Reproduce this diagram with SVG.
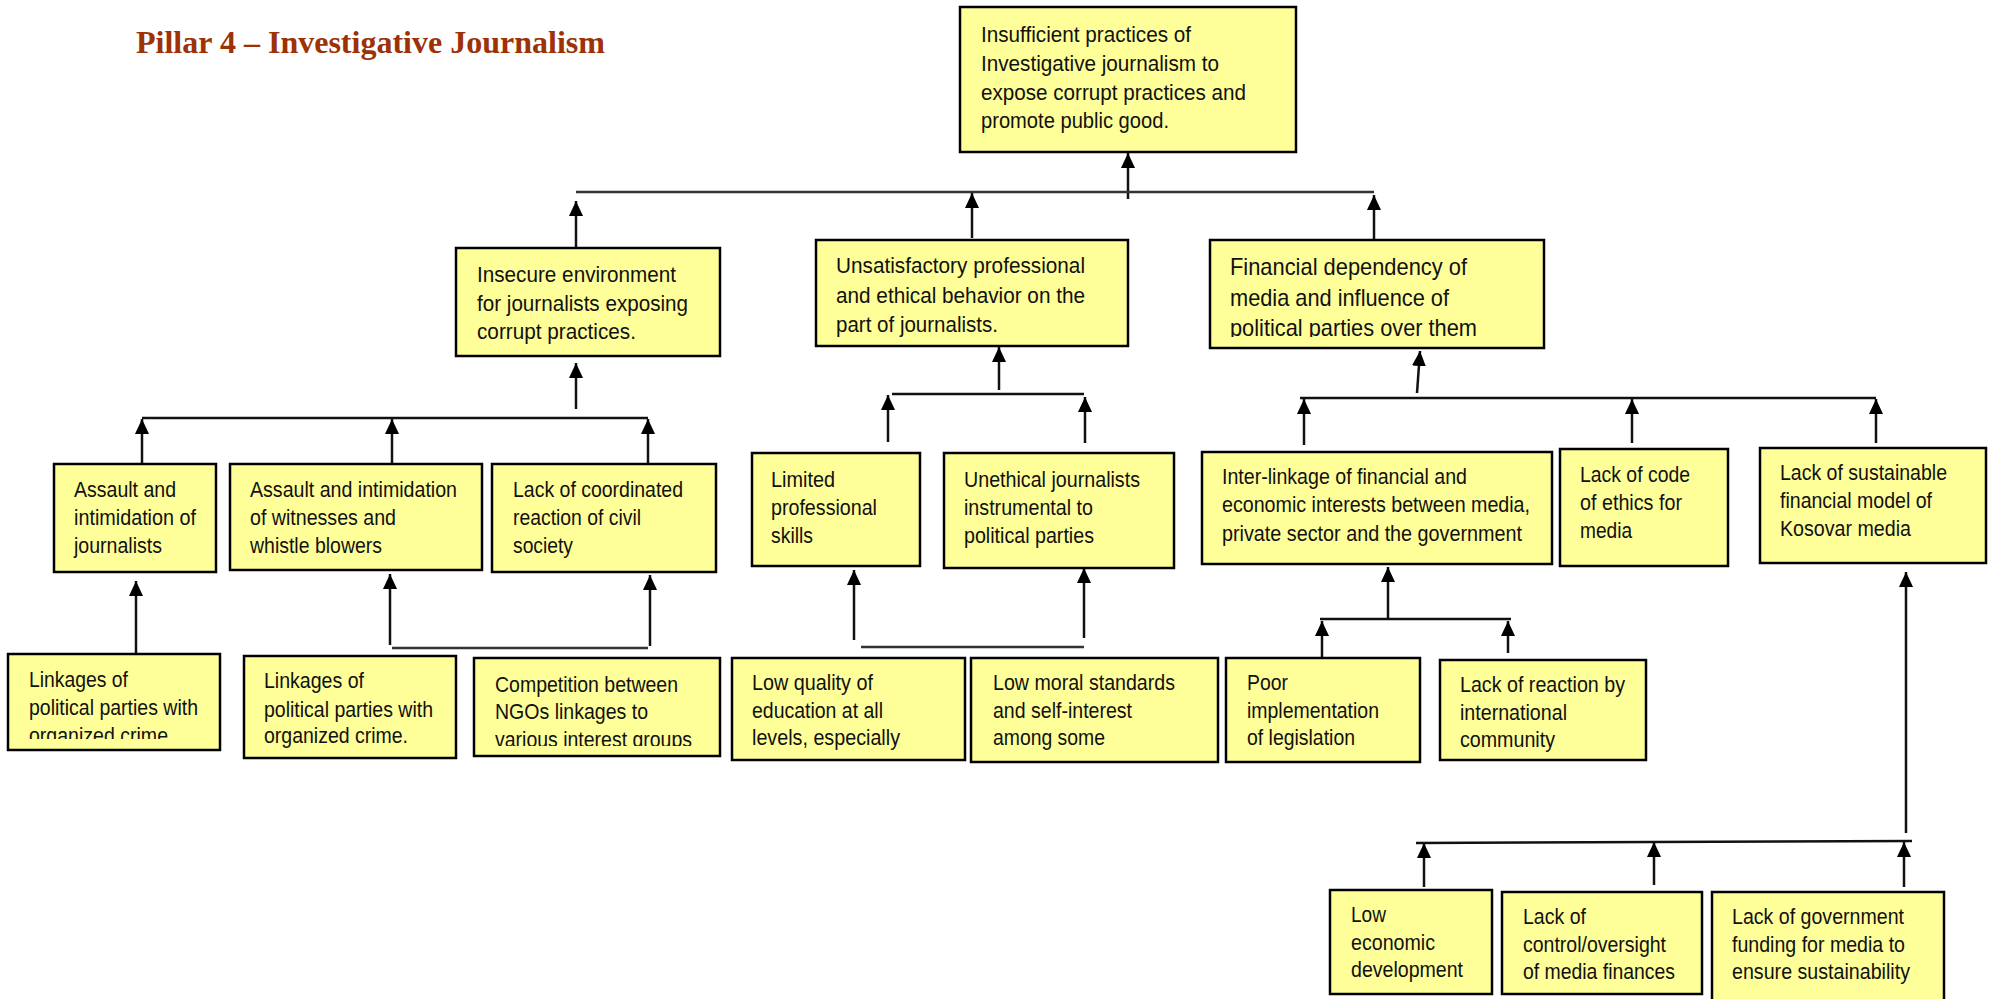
<svg xmlns="http://www.w3.org/2000/svg" width="1993" height="999" viewBox="0 0 1993 999">
<style>
.box{fill:#FFFF99;stroke:#000;stroke-width:2.5}
.t{font-family:"Liberation Sans",Arial,sans-serif;font-size:22px;fill:#111}
.tb{font-family:"Liberation Sans",Arial,sans-serif;font-size:24px;fill:#111}
.c{stroke:#111;stroke-width:2.5;fill:none}
.bar{stroke:#333;stroke-width:2.5;fill:none}
.title{font-family:"Liberation Serif","Times New Roman",serif;font-weight:bold;font-size:31px;fill:#9C3206}
</style>
<defs>
<marker id="ah" markerUnits="userSpaceOnUse" markerWidth="15" markerHeight="15" viewBox="0 0 15 14" refX="15" refY="7" orient="auto">
<path d="M0,0 L15,7 L0,14 z" fill="#000"/>
</marker>
<clipPath id="cpB1"><rect x="9" y="655" width="210" height="84"/></clipPath>
<clipPath id="cpB3"><rect x="475" y="659" width="244" height="87"/></clipPath>
<clipPath id="cpFin"><rect x="1211" y="241" width="332" height="96"/></clipPath>
</defs>
<rect width="1993" height="999" fill="#fff"/>
<text class="title" x="136" y="53" textLength="469" lengthAdjust="spacingAndGlyphs">Pillar 4 – Investigative Journalism</text>

<g id="connectors">
<line class="c" x1="1128" y1="199" x2="1128" y2="153" marker-end="url(#ah)"/>
<line class="bar" x1="576" y1="192" x2="1374" y2="192"/>
<line class="c" x1="576" y1="247" x2="576" y2="201" marker-end="url(#ah)"/>
<line class="c" x1="972" y1="238" x2="972" y2="193" marker-end="url(#ah)"/>
<line class="c" x1="1374" y1="241" x2="1374" y2="195" marker-end="url(#ah)"/>

<line class="c" x1="576" y1="409" x2="576" y2="363" marker-end="url(#ah)"/>
<line class="c" x1="142" y1="418" x2="648" y2="418"/>
<line class="c" x1="142" y1="464" x2="142" y2="419" marker-end="url(#ah)"/>
<line class="c" x1="392" y1="464" x2="392" y2="419" marker-end="url(#ah)"/>
<line class="c" x1="648" y1="464" x2="648" y2="419" marker-end="url(#ah)"/>
<line class="c" x1="136" y1="653" x2="136" y2="581" marker-end="url(#ah)"/>
<line class="c" x1="390" y1="645" x2="390" y2="574" marker-end="url(#ah)"/>
<line class="c" x1="650" y1="646" x2="650" y2="575" marker-end="url(#ah)"/>
<line class="bar" x1="392" y1="648" x2="648" y2="648"/>

<line class="c" x1="999" y1="390" x2="999" y2="347" marker-end="url(#ah)"/>
<line class="c" x1="892" y1="394" x2="1084" y2="394"/>
<line class="c" x1="888" y1="442" x2="888" y2="395" marker-end="url(#ah)"/>
<line class="c" x1="1085" y1="443" x2="1085" y2="397" marker-end="url(#ah)"/>
<line class="c" x1="854" y1="640" x2="854" y2="570" marker-end="url(#ah)"/>
<line class="c" x1="1084" y1="638" x2="1084" y2="568" marker-end="url(#ah)"/>
<line class="bar" x1="861" y1="647" x2="1084" y2="647"/>

<line class="c" x1="1417" y1="393" x2="1420" y2="351" marker-end="url(#ah)"/>
<line class="c" x1="1300" y1="398" x2="1876" y2="398"/>
<line class="c" x1="1304" y1="445" x2="1304" y2="399" marker-end="url(#ah)"/>
<line class="c" x1="1632" y1="443" x2="1632" y2="399" marker-end="url(#ah)"/>
<line class="c" x1="1876" y1="443" x2="1876" y2="399" marker-end="url(#ah)"/>
<line class="c" x1="1388" y1="618" x2="1388" y2="567" marker-end="url(#ah)"/>
<line class="c" x1="1320" y1="619" x2="1511" y2="619"/>
<line class="c" x1="1322" y1="657" x2="1322" y2="621" marker-end="url(#ah)"/>
<line class="c" x1="1508" y1="653" x2="1508" y2="621" marker-end="url(#ah)"/>
<line class="c" x1="1906" y1="833" x2="1906" y2="572" marker-end="url(#ah)"/>
<line class="c" x1="1416" y1="843" x2="1912" y2="841"/>
<line class="c" x1="1424" y1="887" x2="1424" y2="843" marker-end="url(#ah)"/>
<line class="c" x1="1654" y1="885" x2="1654" y2="842" marker-end="url(#ah)"/>
<line class="c" x1="1904" y1="887" x2="1904" y2="842" marker-end="url(#ah)"/>
</g>

<g id="n-top">
<rect class="box" x="960" y="7" width="336" height="145"/>
<text class="t" x="981" y="42" textLength="210" lengthAdjust="spacingAndGlyphs">Insufficient practices of</text>
<text class="t" x="981" y="71" textLength="238" lengthAdjust="spacingAndGlyphs">Investigative journalism to</text>
<text class="t" x="981" y="100" textLength="265" lengthAdjust="spacingAndGlyphs">expose corrupt practices and</text>
<text class="t" x="981" y="128" textLength="188" lengthAdjust="spacingAndGlyphs">promote public good.</text>
</g>

<g id="n-insecure">
<rect class="box" x="456" y="248" width="264" height="108"/>
<text class="t" x="477" y="282" textLength="199" lengthAdjust="spacingAndGlyphs">Insecure environment</text>
<text class="t" x="477" y="311" textLength="211" lengthAdjust="spacingAndGlyphs">for journalists exposing</text>
<text class="t" x="477" y="339" textLength="159" lengthAdjust="spacingAndGlyphs">corrupt practices.</text>
</g>

<g id="n-unsatisfactory">
<rect class="box" x="816" y="240" width="312" height="106"/>
<text class="t" x="836" y="273" textLength="249" lengthAdjust="spacingAndGlyphs">Unsatisfactory professional</text>
<text class="t" x="836" y="303" textLength="249" lengthAdjust="spacingAndGlyphs">and ethical behavior on the</text>
<text class="t" x="836" y="332" textLength="162" lengthAdjust="spacingAndGlyphs">part of journalists.</text>
</g>

<g id="n-financial">
<rect class="box" x="1210" y="240" width="334" height="108"/>
<g clip-path="url(#cpFin)">
<text class="tb" x="1230" y="275" textLength="237" lengthAdjust="spacingAndGlyphs">Financial dependency of</text>
<text class="tb" x="1230" y="306" textLength="219" lengthAdjust="spacingAndGlyphs">media and influence of</text>
<text class="tb" x="1230" y="336" textLength="247" lengthAdjust="spacingAndGlyphs">political parties over them</text>
</g>
</g>

<g id="n-assault-journalists">
<rect class="box" x="54" y="464" width="162" height="108"/>
<text class="t" x="74" y="497" textLength="102" lengthAdjust="spacingAndGlyphs">Assault and</text>
<text class="t" x="74" y="525" textLength="122" lengthAdjust="spacingAndGlyphs">intimidation of</text>
<text class="t" x="74" y="553" textLength="88" lengthAdjust="spacingAndGlyphs">journalists</text>
</g>

<g id="n-assault-witnesses">
<rect class="box" x="230" y="464" width="252" height="106"/>
<text class="t" x="250" y="497" textLength="207" lengthAdjust="spacingAndGlyphs">Assault and intimidation</text>
<text class="t" x="250" y="525" textLength="146" lengthAdjust="spacingAndGlyphs">of witnesses and</text>
<text class="t" x="250" y="553" textLength="132" lengthAdjust="spacingAndGlyphs">whistle blowers</text>
</g>

<g id="n-lack-coordinated">
<rect class="box" x="492" y="464" width="224" height="108"/>
<text class="t" x="513" y="497" textLength="170" lengthAdjust="spacingAndGlyphs">Lack of coordinated</text>
<text class="t" x="513" y="525" textLength="128" lengthAdjust="spacingAndGlyphs">reaction of civil</text>
<text class="t" x="513" y="553" textLength="60" lengthAdjust="spacingAndGlyphs">society</text>
</g>

<g id="n-limited">
<rect class="box" x="752" y="453" width="168" height="113"/>
<text class="t" x="771" y="487" textLength="64" lengthAdjust="spacingAndGlyphs">Limited</text>
<text class="t" x="771" y="515" textLength="106" lengthAdjust="spacingAndGlyphs">professional</text>
<text class="t" x="771" y="543" textLength="42" lengthAdjust="spacingAndGlyphs">skills</text>
</g>

<g id="n-unethical">
<rect class="box" x="944" y="453" width="230" height="115"/>
<text class="t" x="964" y="487" textLength="176" lengthAdjust="spacingAndGlyphs">Unethical journalists</text>
<text class="t" x="964" y="515" textLength="129" lengthAdjust="spacingAndGlyphs">instrumental to</text>
<text class="t" x="964" y="543" textLength="130" lengthAdjust="spacingAndGlyphs">political parties</text>
</g>

<g id="n-interlinkage">
<rect class="box" x="1202" y="452" width="350" height="112"/>
<text class="t" x="1222" y="484" textLength="245" lengthAdjust="spacingAndGlyphs">Inter-linkage of financial and</text>
<text class="t" x="1222" y="512" textLength="308" lengthAdjust="spacingAndGlyphs">economic interests between media,</text>
<text class="t" x="1222" y="541" textLength="300" lengthAdjust="spacingAndGlyphs">private sector and the government</text>
</g>

<g id="n-code-ethics">
<rect class="box" x="1560" y="449" width="168" height="117"/>
<text class="t" x="1580" y="482" textLength="110" lengthAdjust="spacingAndGlyphs">Lack of code</text>
<text class="t" x="1580" y="510" textLength="102" lengthAdjust="spacingAndGlyphs">of ethics for</text>
<text class="t" x="1580" y="538" textLength="52" lengthAdjust="spacingAndGlyphs">media</text>
</g>

<g id="n-sustainable">
<rect class="box" x="1760" y="448" width="226" height="115"/>
<text class="t" x="1780" y="480" textLength="167" lengthAdjust="spacingAndGlyphs">Lack of sustainable</text>
<text class="t" x="1780" y="508" textLength="152" lengthAdjust="spacingAndGlyphs">financial model of</text>
<text class="t" x="1780" y="536" textLength="131" lengthAdjust="spacingAndGlyphs">Kosovar media</text>
</g>

<g id="n-linkages-1">
<rect class="box" x="8" y="654" width="212" height="96"/>
<g clip-path="url(#cpB1)">
<text class="t" x="29" y="687" textLength="99" lengthAdjust="spacingAndGlyphs">Linkages of</text>
<text class="t" x="29" y="715" textLength="169" lengthAdjust="spacingAndGlyphs">political parties with</text>
<text class="t" x="29" y="743" textLength="139" lengthAdjust="spacingAndGlyphs">organized crime</text>
</g>
</g>

<g id="n-linkages-2">
<rect class="box" x="244" y="656" width="212" height="102"/>
<text class="t" x="264" y="688" textLength="100" lengthAdjust="spacingAndGlyphs">Linkages of</text>
<text class="t" x="264" y="717" textLength="169" lengthAdjust="spacingAndGlyphs">political parties with</text>
<text class="t" x="264" y="743" textLength="144" lengthAdjust="spacingAndGlyphs">organized crime.</text>
</g>

<g id="n-competition">
<rect class="box" x="474" y="658" width="246" height="98"/>
<g clip-path="url(#cpB3)">
<text class="t" x="495" y="692" textLength="183" lengthAdjust="spacingAndGlyphs">Competition between</text>
<text class="t" x="495" y="719" textLength="153" lengthAdjust="spacingAndGlyphs">NGOs linkages to</text>
<text class="t" x="495" y="747" textLength="197" lengthAdjust="spacingAndGlyphs">various interest groups</text>
</g>
</g>

<g id="n-low-quality">
<rect class="box" x="732" y="658" width="233" height="102"/>
<text class="t" x="752" y="690" textLength="121" lengthAdjust="spacingAndGlyphs">Low quality of</text>
<text class="t" x="752" y="718" textLength="131" lengthAdjust="spacingAndGlyphs">education at all</text>
<text class="t" x="752" y="745" textLength="148" lengthAdjust="spacingAndGlyphs">levels, especially</text>
</g>

<g id="n-low-moral">
<rect class="box" x="971" y="658" width="247" height="104"/>
<text class="t" x="993" y="690" textLength="182" lengthAdjust="spacingAndGlyphs">Low moral standards</text>
<text class="t" x="993" y="718" textLength="139" lengthAdjust="spacingAndGlyphs">and self-interest</text>
<text class="t" x="993" y="745" textLength="112" lengthAdjust="spacingAndGlyphs">among some</text>
</g>

<g id="n-poor">
<rect class="box" x="1226" y="658" width="194" height="104"/>
<text class="t" x="1247" y="690" textLength="41" lengthAdjust="spacingAndGlyphs">Poor</text>
<text class="t" x="1247" y="718" textLength="132" lengthAdjust="spacingAndGlyphs">implementation</text>
<text class="t" x="1247" y="745" textLength="108" lengthAdjust="spacingAndGlyphs">of legislation</text>
</g>

<g id="n-reaction">
<rect class="box" x="1440" y="660" width="206" height="100"/>
<text class="t" x="1460" y="692" textLength="165" lengthAdjust="spacingAndGlyphs">Lack of reaction by</text>
<text class="t" x="1460" y="720" textLength="107" lengthAdjust="spacingAndGlyphs">international</text>
<text class="t" x="1460" y="747" textLength="95" lengthAdjust="spacingAndGlyphs">community</text>
</g>

<g id="n-low-economic">
<rect class="box" x="1330" y="890" width="162" height="104"/>
<text class="t" x="1351" y="922" textLength="35" lengthAdjust="spacingAndGlyphs">Low</text>
<text class="t" x="1351" y="950" textLength="84" lengthAdjust="spacingAndGlyphs">economic</text>
<text class="t" x="1351" y="977" textLength="112" lengthAdjust="spacingAndGlyphs">development</text>
</g>

<g id="n-control">
<rect class="box" x="1502" y="892" width="200" height="102"/>
<text class="t" x="1523" y="924" textLength="63" lengthAdjust="spacingAndGlyphs">Lack of</text>
<text class="t" x="1523" y="952" textLength="143" lengthAdjust="spacingAndGlyphs">control/oversight</text>
<text class="t" x="1523" y="979" textLength="152" lengthAdjust="spacingAndGlyphs">of media finances</text>
</g>

<g id="n-gov-funding">
<rect class="box" x="1712" y="892" width="232" height="112"/>
<text class="t" x="1732" y="924" textLength="172" lengthAdjust="spacingAndGlyphs">Lack of government</text>
<text class="t" x="1732" y="952" textLength="173" lengthAdjust="spacingAndGlyphs">funding for media to</text>
<text class="t" x="1732" y="979" textLength="178" lengthAdjust="spacingAndGlyphs">ensure sustainability</text>
</g>
</svg>
